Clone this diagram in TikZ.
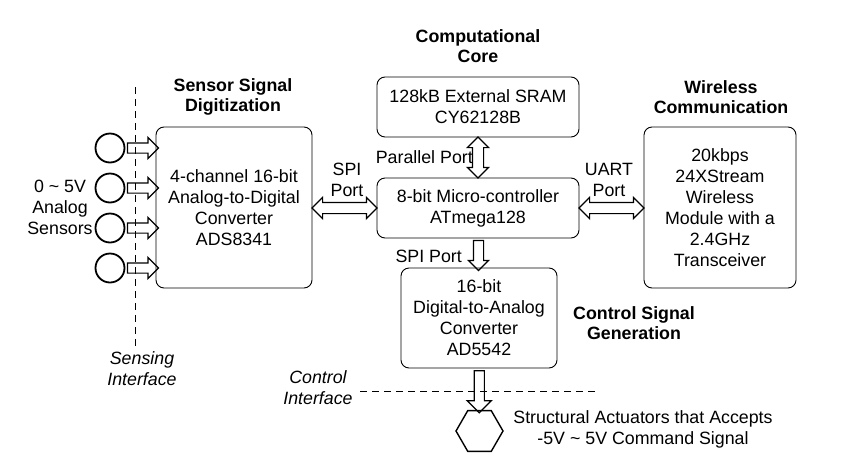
\documentclass[tikz,border=0pt]{standalone}
\usepackage{fontspec}
\setmainfont{Liberation Sans}
\usetikzlibrary{shapes.geometric,shapes.arrows,calc}
\newcommand{\fsz}{\fontsize{17.8}{21}\selectfont}
\newcommand{\fbz}{\fontsize{17.8}{20}\selectfont\bfseries}
\newcommand{\fiz}{\fontsize{17.8}{21}\selectfont\itshape}
\begin{document}
\begin{tikzpicture}[x=1pt,y=-1pt,
  box/.style={draw, rounded corners=8pt, line width=0.9pt, align=center, font=\fsz, inner sep=0pt},
  lbl/.style={align=center, font=\fsz, inner sep=0pt},
  ttl/.style={align=center, font=\fbz, inner sep=0pt},
  itl/.style={align=center, font=\fiz, inner sep=0pt},
  darr/.style={double arrow, draw, line width=1.2pt, inner xsep=0pt, inner ysep=5pt,
     double arrow head extend=5pt, double arrow tip angle=90},
  sarr/.style={single arrow, draw, line width=1.2pt, inner xsep=0pt, inner ysep=4.5pt,
     single arrow head extend=5.5pt, single arrow tip angle=90},
  sensor/.style={circle, draw, line width=1.8pt, minimum size=29pt, inner sep=0pt},
  border/.style={dash pattern=on 7pt off 5pt, line width=0.9pt}]
\useasboundingbox (0,0) rectangle (843,461);

% boxes
\node[box, minimum width=202pt, minimum height=60pt] (sram) at (478,107) {128kB External SRAM\\CY62128B};
\node[box, minimum width=202pt, minimum height=60pt] (mcu) at (478,208) {8-bit Micro-controller\\ATmega128};
\node[box, minimum width=156pt, minimum height=161pt] (adc) at (234,207.5) {4-channel 16-bit\\Analog-to-Digital\\Converter\\ADS8341};
\node[box, minimum width=152pt, minimum height=161pt] (wls) at (720,207.5) {20kbps\\24XStream\\Wireless\\Module with a\\2.4GHz\\Transceiver};
\node[box, minimum width=156pt, minimum height=100pt] (dac) at (479,318) {16-bit\\Digital-to-Analog\\Converter\\AD5542};
\node[regular polygon, regular polygon sides=6, draw, line width=1.4pt, minimum size=47pt, inner sep=0pt] (act) at (479.5,431) {};

% titles
\node[ttl] (tcore) at (478,46) {Computational\\Core};
\node[ttl] (tsens) at (233,97) {Sensor Signal\\Digitization};
\node[ttl] (twls) at (721,97) {Wireless\\Communication};
\node[ttl] (tctl) at (634,323) {Control Signal\\Generation};

% labels
\node[lbl] (lsens) at (60,207) {0 \textasciitilde{} 5V\\Analog\\Sensors};
\node[lbl] (lspi) at (347,180) {SPI\\Port};
\node[lbl] (luart) at (609,180) {UART\\Port};
\node[lbl, anchor=east] (lpar) at (473,157) {Parallel Port};
\node[lbl, anchor=east] (lspi2) at (462,256) {SPI Port};
\node[lbl] (lact) at (643,429) {Structural Actuators that Accepts\\-5V \textasciitilde{} 5V Command Signal};
\node[itl] (lsi) at (142,369) {Sensing\\Interface};
\node[itl] (lci) at (318,388) {Control\\Interface};

% sensors
\foreach \i/\y in {1/148,2/188,3/228,4/268}{
  \node[sensor] (s\i) at (110,\y) {};
  \node[sarr, minimum height=31pt] (a\i) at ($(s\i.east)!0.5!(adc.west |- s\i)$) {};
}

% block arrows between nodes
\node[darr, rotate=90, minimum height=41pt] (apar) at ($(sram.south)!0.5!(mcu.north)$) {};
\node[darr, minimum height=65pt] (aspi) at ($(adc.east |- mcu)!0.5!(mcu.west)$) {};
\node[darr, minimum height=65pt] (auart) at ($(mcu.east)!0.5!(wls.west |- mcu)$) {};
\node[sarr, rotate=-90, minimum height=30pt, single arrow head extend=5pt] (adn) at ($(mcu.south)!0.5!(dac.north)$) {};
\node[sarr, rotate=-90, minimum height=42pt, single arrow head extend=7pt] (aact) at ($(dac.south)!0.5!(act.north)$) {};

% interfaces
\coordinate (vtop) at (135.5,87);
\coordinate (vbot) at (135.5,350);
\draw[border] (vtop) -- (vbot);
\coordinate (hl) at (360,391);
\coordinate (hr) at (597,391);
\draw[border] (hl) -- (hr);
\end{tikzpicture}
\end{document}
